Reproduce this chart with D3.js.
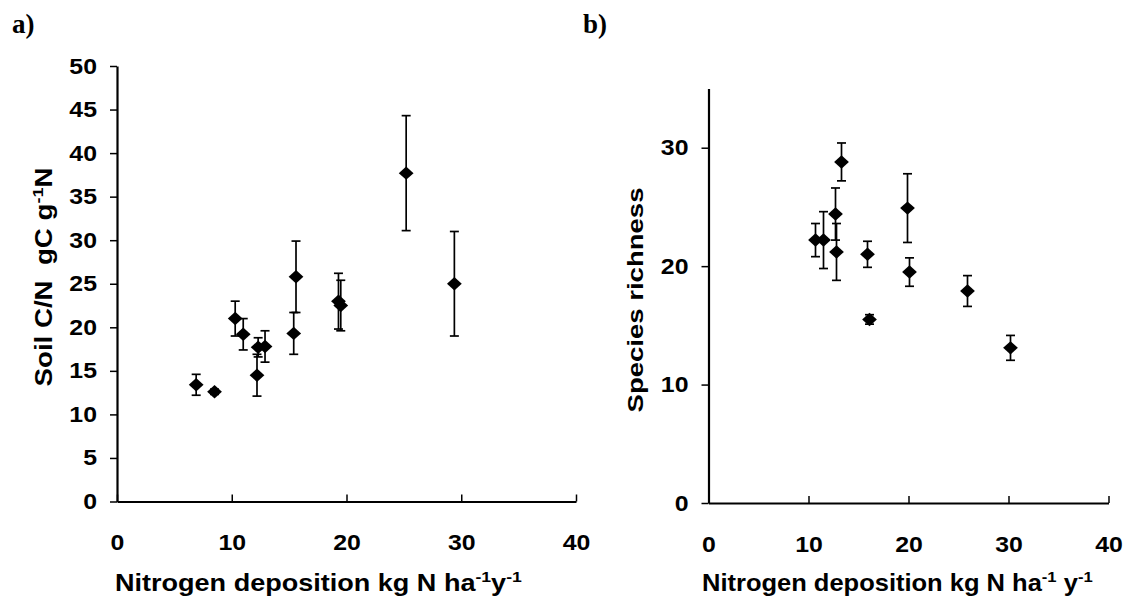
<!DOCTYPE html>
<html>
<head>
<meta charset="utf-8">
<script src="https://cdn.jsdelivr.net/npm/d3@7"></script>
<style>
  body { margin: 0; background: #fff; }
  svg text { font-family: "Liberation Sans", Arial, sans-serif; font-weight: bold; fill: #000; }
</style>
</head>
<body>
<svg id="chart" width="1133" height="601"></svg>
<script>
// panel a: soil C/N vs N deposition
let depA   = [6.9, 8.5, 10.3, 11.0, 12.2, 12.3, 12.9, 15.4, 15.6, 19.3, 19.5, 25.2, 29.4];
let cnA    = [13.4, 12.6, 21.0, 19.2, 14.5, 17.7, 17.8, 19.3, 25.8, 23.0, 22.5, 37.7, 25.0];
let cnErrA = [1.2, 0.3, 2.0, 1.8, 2.4, 1.1, 1.8, 2.4, 4.1, 3.2, 2.9, 6.6, 6.0];

// panel b: species richness vs N deposition
let depB     = [10.7, 11.5, 12.7, 12.8, 13.3, 15.9, 16.1, 19.9, 20.1, 25.9, 30.2];
let richB    = [22.2, 22.2, 24.4, 21.2, 28.8, 21.0, 15.5, 24.9, 19.5, 17.9, 13.1];
let richErrB = [1.4, 2.4, 2.2, 2.4, 1.6, 1.1, 0.4, 2.9, 1.2, 1.3, 1.05];

let xTicks  = [0, 10, 20, 30, 40];
let yTicksA = [0, 5, 10, 15, 20, 25, 30, 35, 40, 45, 50];
let yTicksB = [0, 10, 20, 30];

let svg = d3.select("#chart");
let stretch = 1.13; // the original's type is a bit wider than Arial

function addTitle(g, parts, tx, ty, rot, target) {
  let t = g.append("text").style("font-size", "23px").style("white-space", "pre");
  parts.forEach(function(part) {
    let s = t.append("tspan").text(part[0]);
    if (part[1]) s.attr("dy", -9).style("font-size", "15px");
    else if (part[2]) s.attr("dy", 9);
  });
  let len = t.node().getComputedTextLength();
  let sx = target / len;
  if (rot) {
    t.attr("text-anchor", "middle")
      .attr("transform", "translate(" + tx + "," + ty + ") rotate(-90) scale(" + sx + ",1)");
  } else {
    t.attr("transform", "translate(" + tx + "," + ty + ") scale(" + sx + ",1)");
  }
}

function drawPanel(p) {
  let x = d3.scaleLinear().domain([0, 40]).range([p.left, p.right]);
  let y = d3.scaleLinear().domain([0, p.yMax]).range([p.bottom, p.top]);
  let g = svg.append("g");

  let xAxis = g.append("g")
    .attr("transform", "translate(0," + p.bottom + ")")
    .call(d3.axisBottom(x).tickValues(xTicks).tickSize(7).tickPadding(21).tickSizeOuter(0));
  xAxis.selectAll("line").attr("stroke", "#000").attr("stroke-width", 1.5).attr("y1", -7).attr("y2", 0);
  let yAxis = g.append("g")
    .attr("transform", "translate(" + p.left + ",0)")
    .call(d3.axisLeft(y).tickValues(p.yTicks).tickSize(7).tickPadding(13).tickSizeOuter(0));
  yAxis.selectAll("line").attr("stroke", "#000").attr("stroke-width", 1.5);
  g.selectAll(".domain").attr("stroke", "#000").attr("stroke-width", 2.2);
  g.selectAll(".tick text").style("font-size", "22px");
  xAxis.selectAll(".tick text").attr("dy", "0.95em").attr("transform", "scale(" + stretch + ",1)");
  yAxis.selectAll(".tick text").attr("x", -20 / stretch).attr("transform", "scale(" + stretch + ",1)");

  // error bars
  let capW = 4.5;
  p.xs.forEach(function(d, i) {
    let cx = x(d), lo = y(p.ys[i] - p.err[i]), hi = y(p.ys[i] + p.err[i]);
    g.append("line").attr("x1", cx).attr("x2", cx).attr("y1", lo).attr("y2", hi)
      .attr("stroke", "#000").attr("stroke-width", 1.7);
    [lo, hi].forEach(function(v) {
      g.append("line").attr("x1", cx - capW).attr("x2", cx + capW).attr("y1", v).attr("y2", v)
        .attr("stroke", "#000").attr("stroke-width", 1.7);
    });
  });

  // diamonds
  let diamond = d3.symbol().type(d3.symbolDiamond2).size(115);
  g.selectAll(".pt").data(p.xs).enter().append("path")
    .attr("class", "pt")
    .attr("d", diamond)
    .attr("transform", function(d, i) { return "translate(" + x(d) + "," + y(p.ys[i]) + ") scale(1.1,1)"; })
    .attr("fill", "#000");

  addTitle(g, p.xTitle, p.xTitleX, 591, false, p.xTitleW);
  addTitle(g, p.yTitle, p.yTitleX, p.yTitleY, true, p.yTitleW);

  svg.append("text").attr("x", p.tagX).attr("y", 33)
    .style("font-family", "'Liberation Serif', 'Times New Roman', serif")
    .style("font-weight", "bold")
    .style("font-size", "27px")
    .text(p.tag);
}

drawPanel({
  xs: depA, ys: cnA, err: cnErrA, yMax: 50, yTicks: yTicksA,
  left: 117, right: 576, top: 66, bottom: 501.5,
  xTitleX: 115, xTitleW: 407,
  xTitle: [["Nitrogen deposition kg N ha"], ["-1", true], ["y", false, true], ["-1", true]],
  yTitleX: 52, yTitleY: 277, yTitleW: 219,
  yTitle: [["Soil C/N  gC g"], ["-1", true], ["N", false, true]],
  tag: "a)", tagX: 12
});

drawPanel({
  xs: depB, ys: richB, err: richErrB, yMax: 35, yTicks: yTicksB,
  left: 708.5, right: 1108.5, top: 88.5, bottom: 503,
  xTitleX: 702, xTitleW: 391,
  xTitle: [["Nitrogen deposition kg N ha"], ["-1", true], [" y", false, true], ["-1", true]],
  yTitleX: 643, yTitleY: 300, yTitleW: 225,
  yTitle: [["Species richness"]],
  tag: "b)", tagX: 583
});
</script>
</body>
</html>
